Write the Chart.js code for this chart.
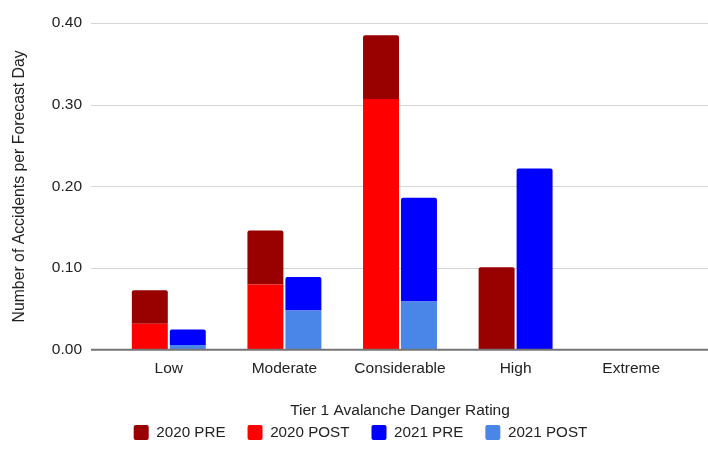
<!DOCTYPE html>
<html lang="en">
<head>
<meta charset="UTF-8">
<title>Accidents per Forecast Day by Danger Rating</title>
<script src="https://cdn.jsdelivr.net/npm/chart.js"></script>
<style>
  html, body { margin: 0; padding: 0; background: #fff; }
</style>
</head>
<body>
<canvas id="accChart" width="708" height="454"></canvas>
<script>
// Tier 1 danger ratings and accidents per forecast day
// bars are stacked: POST sits at the bottom, PRE is the part on top
const ratings  = ["Low", "Moderate", "Considerable", "High", "Extreme"];
const pre2020  = [0.041, 0.066, 0.078, 0.101, 0];
const post2020 = [0.032, 0.080, 0.307, 0, 0];
const pre2021  = [0.019, 0.041, 0.127, 0.222, 0];
const post2021 = [0.006, 0.048, 0.059, 0, 0];
const yTicks   = [0, 0.1, 0.2, 0.3, 0.4];

const FAMILY = "'Liberation Sans', Arial, sans-serif";
const FONT = { family: FAMILY, size: 15.5 };
const TEXT = "#222";
const topCorners = { topLeft: 2, topRight: 2, bottomLeft: 0, bottomRight: 0 };

// google-sheets style gridlines, running a bit past the bars on both sides
const sheetGrid = {
    id: "sheetGrid",
    beforeDatasetsDraw(chart) {
        const { ctx, scales: { y } } = chart;
        ctx.save();
        ctx.strokeStyle = "#d6d6d6";
        ctx.lineWidth = 1;
        y.ticks.forEach(t => {
            if (t.value === 0) return;
            const py = Math.round(y.getPixelForValue(t.value)) + 0.5;
            ctx.beginPath();
            ctx.moveTo(91, py);
            ctx.lineTo(708, py);
            ctx.stroke();
        });
        ctx.restore();
    },
    afterDatasetsDraw(chart) {
        const { ctx, scales: { y } } = chart;
        const py = y.getPixelForValue(0);
        ctx.save();
        ctx.strokeStyle = "#757575";
        ctx.lineWidth = 2;
        ctx.beginPath();
        ctx.moveTo(91, py);
        ctx.lineTo(708, py);
        ctx.stroke();
        ctx.restore();
    }
};

new Chart(document.getElementById("accChart"), {
    type: "bar",
    data: {
        labels: ratings,
        datasets: [
            { label: "2020 PRE",  data: pre2020,  stack: "2020", order: 2, backgroundColor: "#990000", borderRadius: topCorners, borderSkipped: false },
            { label: "2020 POST", data: post2020, stack: "2020", order: 1, backgroundColor: "#ff0000" },
            { label: "2021 PRE",  data: pre2021,  stack: "2021", order: 2, backgroundColor: "#0000ff", borderRadius: topCorners, borderSkipped: false },
            { label: "2021 POST", data: post2021, stack: "2021", order: 1, backgroundColor: "#4a86e8" }
        ]
    },
    options: {
        responsive: false,
        animation: false,
        categoryPercentage: 0.657,
        barPercentage: 0.947,
        layout: { padding: { left: 32, right: 19, top: 23, bottom: 4 } },
        scales: {
            x: {
                stacked: true,
                grid: { display: false },
                border: { display: false },
                ticks: { font: FONT, color: TEXT, padding: 2 },
                title: { display: true, text: "Tier 1 Avalanche Danger Rating", font: FONT, color: TEXT, padding: { top: 0, bottom: -17 } },
                afterFit: s => { s.height = 53; }
            },
            y: {
                stacked: true,
                min: 0,
                max: 0.4,
                grid: { display: false },
                border: { display: false },
                afterBuildTicks: s => { s.ticks = yTicks.map(v => ({ value: v })); },
                ticks: { font: FONT, color: TEXT, padding: 21, callback: v => v.toFixed(2) },
                title: { display: true, text: "Number of Accidents per Forecast Day", font: { family: FAMILY, size: 15.8 }, color: TEXT, padding: { top: -22, bottom: 0 } },
                afterFit: s => { s.width = 79; s.paddingTop = 0; s.paddingBottom = 0; }
            }
        },
        plugins: {
            legend: {
                position: "bottom",
                labels: {
                    font: { family: FAMILY, size: 15.2 },
                    color: TEXT,
                    boxWidth: 15,
                    boxHeight: 15,
                    padding: 22,
                    useBorderRadius: true,
                    borderRadius: 2,
                    sort: (a, b) => a.datasetIndex - b.datasetIndex
                }
            },
            tooltip: { enabled: false }
        }
    },
    plugins: [sheetGrid]
});
</script>
</body>
</html>
